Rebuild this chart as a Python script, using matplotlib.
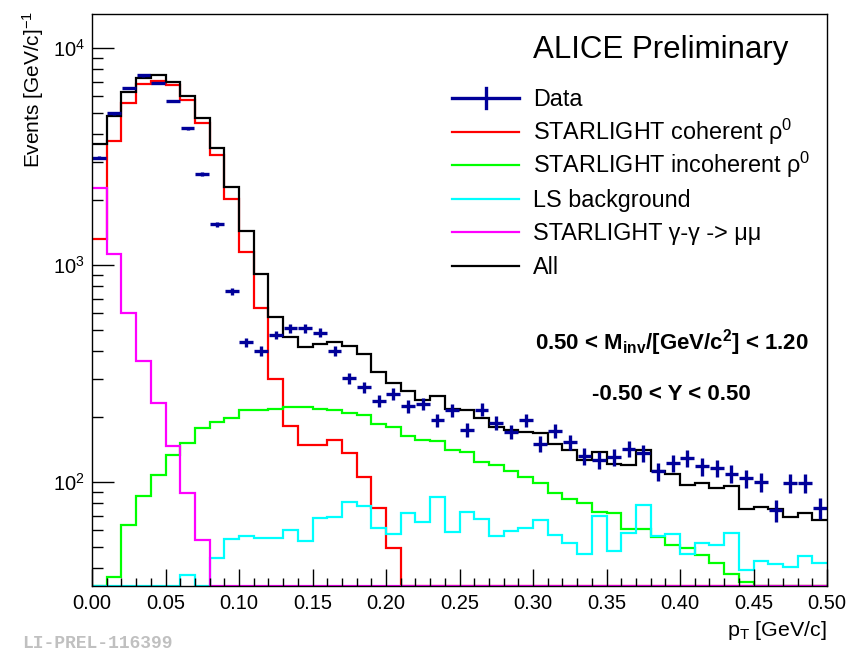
import numpy as np
import matplotlib
matplotlib.use("Agg")
from matplotlib import pyplot as plt
from matplotlib.lines import Line2D
from matplotlib.ticker import LogLocator, MultipleLocator, NullFormatter, FuncFormatter

plt.rcParams['font.family'] = ['Liberation Sans', 'DejaVu Sans']
plt.rcParams['mathtext.fontset'] = 'custom'
plt.rcParams['mathtext.rm'] = 'Liberation Sans'
plt.rcParams['mathtext.it'] = 'Liberation Sans:italic'
plt.rcParams['mathtext.bf'] = 'Liberation Sans:bold'
plt.rcParams['mathtext.default'] = 'regular'

# pT histograms, 50 bins of 0.01 GeV/c between 0 and 0.5
bin_width = 0.01
n_bins = 50

data_vals = [3126, 5000, 6550, 7480, 6920, 5718, 4263, 2634, 1545, 756,
             442, 403, 476, 511, 511, 489, 402, 301, 273, 237,
             256, 224, 230, 193, 215, 174, 216, 188, 171, 193,
             150, 172, 153, 132, 126, 130, 142, 136, 112, 122,
             129, 118, 116, 109, 104, 100, 74, 99, 99, 76]

coherent = [1313, 3727, 5600, 6800, 7080, 6750, 5757, 4500, 3213, 2014,
            1152, 635, 298, 181, 148, 148, 156, 136, 106, 75.6,
            49.5, 0, 0, 0, 0, 0, 0, 0, 0, 0,
            0, 0, 0, 0, 0, 0, 0, 0, 0, 0,
            0, 0, 0, 0, 0, 0, 0, 0, 0, 0]

incoherent = [0, 36.6, 63.4, 86, 108, 134, 151, 177, 190, 198,
              216, 215, 218, 222, 221, 218, 216, 209, 204, 186,
              179, 163, 156, 154, 141, 137, 124, 120, 112, 105,
              98.6, 89, 84, 79.8, 73, 72, 60.5, 60.5, 56, 51.3,
              49.8, 46, 42.2, 37.9, 34.7, 0, 0, 0, 0, 0]

ls_bkg = [0, 0, 0, 0, 0, 0, 37.3, 0, 44.5, 54.5,
          56.4, 55.5, 55.5, 60.3, 53.7, 68, 68.7, 81.2, 77.6, 61.3,
          57.4, 71.8, 65.7, 85.5, 58.8, 72.8, 67.4, 56.6, 59.3, 61.3,
          66.6, 57.1, 52.4, 46.6, 69.7, 48.3, 58.5, 78.3, 56.6, 57.5,
          46.6, 52.2, 51.5, 58.4, 39.3, 43.2, 41.9, 40.8, 45.6, 42.5]

gg_mumu = [2270, 1124, 599, 361, 232, 147, 89.3, 54, 0, 0,
           0, 0, 0, 0, 0, 0, 0, 0, 0, 0,
           0, 0, 0, 0, 0, 0, 0, 0, 0, 0,
           0, 0, 0, 0, 0, 0, 0, 0, 0, 0,
           0, 0, 0, 0, 0, 0, 0, 0, 0, 0]

total = [3597, 4876, 6252, 7250, 7510, 6998, 6026, 4742, 3450, 2280,
         1436, 906, 575, 465, 420, 433, 440, 425, 389, 322,
         285, 264, 239, 249, 218, 216, 197, 180, 174, 171,
         168, 150, 141, 127, 137, 121, 120, 140, 112, 109,
         97, 98.6, 94.2, 96, 74.8, 76.4, 74.8, 68.8, 71.8, 67]

labels = ['Data', 'STARLIGHT coherent \u03c1$^{0}$', 'STARLIGHT incoherent \u03c1$^{0}$',
          'LS background', 'STARLIGHT \u03b3-\u03b3 -> \u03bc\u03bc', 'All']
colors = ['#000099', '#ff0000', '#00ff00', '#00ffff', '#ff00ff', 'black']

ymin, ymax = 33.2, 14360

edges = np.arange(n_bins + 1) * bin_width
centers = edges[:-1] + bin_width / 2
data_vals = np.array(data_vals, dtype=float)
data_err = np.sqrt(data_vals)


def floor(v):
    # empty bins sit on the lower frame edge, as in ROOT
    return np.maximum(np.asarray(v, dtype=float), ymin)


W, H = 858, 655
fig = plt.figure(figsize=(W / 100, H / 100), dpi=100)
ax = fig.add_axes([92 / W, 1 - 586 / H, 735 / W, 572 / H])

lw = 1.6
for vals, c in zip([coherent, incoherent, ls_bkg, gg_mumu, total], colors[1:]):
    ax.stairs(floor(vals), edges, color=c, lw=lw, baseline=None)
ax.errorbar(centers, data_vals, xerr=0.0047, yerr=data_err, fmt='none',
            ecolor=colors[0], elinewidth=2.4, capsize=0)

ax.set_yscale('log')
ax.set_xlim(0, 0.5)
ax.set_ylim(ymin, ymax)

ax.xaxis.set_major_locator(MultipleLocator(0.05))
ax.xaxis.set_minor_locator(MultipleLocator(0.01))
ax.xaxis.set_major_formatter(FuncFormatter(lambda v, p: '%.2f' % v))
ax.yaxis.set_major_locator(LogLocator(base=10))
ax.yaxis.set_minor_locator(LogLocator(base=10, subs=np.arange(2, 10)))
ax.yaxis.set_minor_formatter(NullFormatter())
ax.yaxis.set_major_formatter(FuncFormatter(lambda v, p: '$10^{%d}$' % round(np.log10(v))))

ax.tick_params(axis='x', which='major', direction='in', length=12, width=1, labelsize=14.5, pad=6)
ax.tick_params(axis='x', which='minor', direction='in', length=6, width=1)
ax.tick_params(axis='y', which='major', direction='in', length=16, width=1, labelsize=14.5, pad=5)
ax.tick_params(axis='y', which='minor', direction='in', length=8, width=1)
ax.tick_params(top=False, right=False, which='both')
for s in ax.spines.values():
    s.set_linewidth(1)


def px(x, y):
    return x / W, 1 - y / H


# legend, drawn by hand to keep ROOT's even row spacing
fig.text(*px(533, 50), 'ALICE Preliminary', fontsize=22.5, va='center', ha='left')
for i, (lab, c) in enumerate(zip(labels, colors)):
    y = 98 + 33.6 * i
    x0, y0 = px(452, y)
    x1, _ = px(519, y)
    fig.add_artist(Line2D([x0, x1], [y0, y0], color=c, lw=2.4 if i == 0 else lw))
    if i == 0:
        xm, _ = px(485.5, y)
        _, ya = px(485.5, y - 10)
        _, yb = px(485.5, y + 10)
        fig.add_artist(Line2D([xm, xm], [ya, yb], color=c, lw=2.4))
    fig.text(*px(533, y + 8), lab, fontsize=16.8, va='baseline', ha='left')

fig.text(*px(672, 343), '0.50 < M$_{\\mathbf{inv}}$/[GeV/c$^{\\mathbf{2}}$] < 1.20',
         fontsize=16, weight='bold', ha='center', va='center')
fig.text(*px(671, 395), '-0.50 < Y < 0.50',
         fontsize=16, weight='bold', ha='center', va='center')

fig.text(*px(827, 631), 'p$_{T}$ [GeV/c]', fontsize=15.4, ha='right', va='center')
fig.text(*px(33, 168), 'Events [GeV/c]$^{-1}$', fontsize=15,
         rotation=90, ha='center', va='bottom')
fig.text(*px(22, 644), 'LI-PREL-116399', family='Liberation Mono',
         weight='bold', color='#c0c0c0', fontsize=13, va='center', ha='left')

fig.savefig('out.png', dpi=100)
